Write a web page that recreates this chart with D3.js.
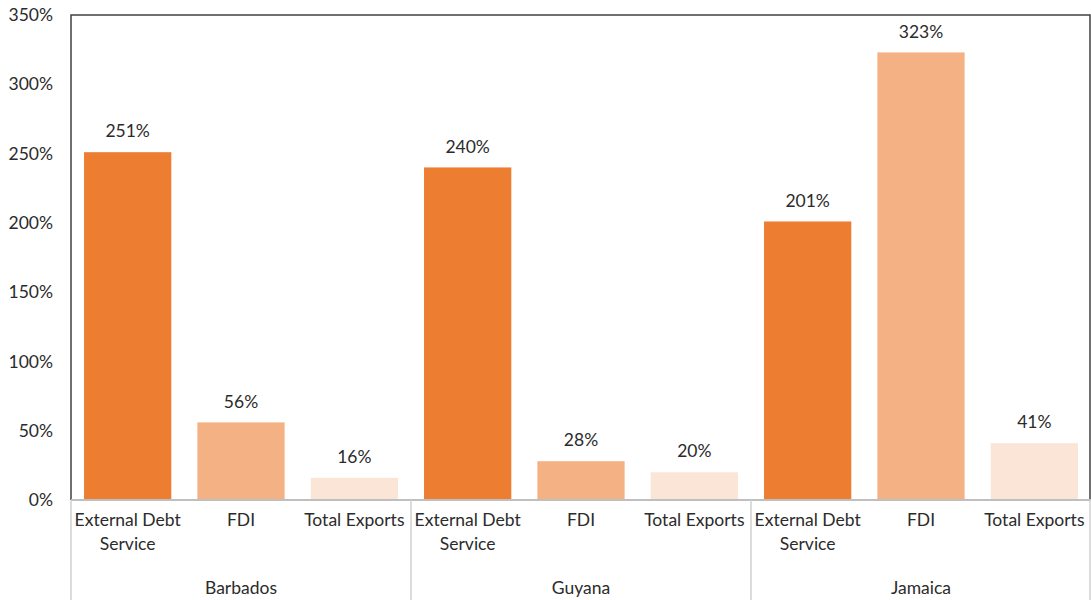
<!DOCTYPE html>
<html><head><meta charset="utf-8">
<script src="https://cdn.jsdelivr.net/npm/d3@7"></script>
<style>body{margin:0;background:#fff;} text{font-family:"Lato","Open Sans",sans-serif;fill:#2b2b2b;}</style>
</head><body><svg id="c" width="1091" height="600"></svg>
<script>
const groups = ["Barbados","Guyana","Jamaica"];
const categories = ["External Debt Service","FDI","Total Exports"];
const categoryLines = [["External Debt","Service"],["FDI"],["Total Exports"]];
const barbados = [251,56,16];
const guyana = [240,28,20];
const jamaica = [201,323,41];
const yTicks = [0,50,100,150,200,250,300,350];
const colors = ["#ED7D31","#F4B183","#FBE5D6"];

const seriesByGroup = [barbados,guyana,jamaica];
const data = [];
groups.forEach((g,gi)=>categories.forEach((c,ci)=>data.push({key:g+"|"+c,group:g,cat:c,ci,value:seriesByGroup[gi][ci]})));

const svg = d3.select("#c");
const L=71,R=1091,T=15,B=500;
const FS="17.5px";
const x = d3.scaleBand().domain(data.map(d=>d.key)).range([L,R]).paddingInner(0.23).paddingOuter(0.115);
const xg = d3.scaleBand().domain(groups).range([L,R]);
const y = d3.scaleLinear().domain([0,350]).range([B,T]);

// y tick labels
svg.append("g").selectAll("text").data(yTicks).join("text")
  .attr("x",53).attr("y",d=>y(d)).attr("dy","0.35em").attr("text-anchor","end")
  .style("font-size",FS).text(d=>d+"%");

// bars
svg.append("g").selectAll("rect").data(data).join("rect")
  .attr("x",d=>x(d.key)).attr("width",x.bandwidth())
  .attr("y",d=>y(d.value)).attr("height",d=>B-y(d.value))
  .attr("fill",d=>colors[d.ci]);

// value labels
svg.append("g").selectAll("text").data(data).join("text")
  .attr("x",d=>x(d.key)+x.bandwidth()/2).attr("y",d=>y(d.value)-21).attr("dy","0.35em")
  .attr("text-anchor","middle").style("font-size",FS).text(d=>d.value+"%");

// frame: left, top, right
svg.append("path").attr("d",`M${L},${B}V${T}H${R-1}V${B}`).attr("fill","none").attr("stroke","#404040").attr("stroke-width",1.5);
// x axis line
svg.append("line").attr("x1",L).attr("x2",R).attr("y1",B).attr("y2",B).attr("stroke","#bfbfbf").attr("stroke-width",2);
// group separators
const seps = groups.map(g=>xg(g)).concat([R-1]);
svg.append("g").selectAll("line").data(seps).join("line")
  .attr("x1",d=>d).attr("x2",d=>d).attr("y1",B).attr("y2",600).attr("stroke","#d0d0d0").attr("stroke-width",1.5);

// category labels
const cl = svg.append("g").selectAll("text").data(data).join("text")
  .attr("x",d=>x(d.key)+x.bandwidth()/2).attr("y",526).attr("dy","0.35em")
  .attr("text-anchor","middle").style("font-size",FS);
cl.selectAll("tspan").data(d=>categoryLines[d.ci].map(t=>({t,x:x(d.key)+x.bandwidth()/2}))).join("tspan")
  .attr("x",t=>t.x).attr("dy",(t,i)=>i===0?0:"24px").text(t=>t.t);

// group labels
svg.append("g").selectAll("text").data(groups).join("text")
  .attr("x",g=>xg(g)+xg.bandwidth()/2).attr("y",588).attr("dy","0.35em")
  .attr("text-anchor","middle").style("font-size",FS).text(g=>g);
</script></body></html>
